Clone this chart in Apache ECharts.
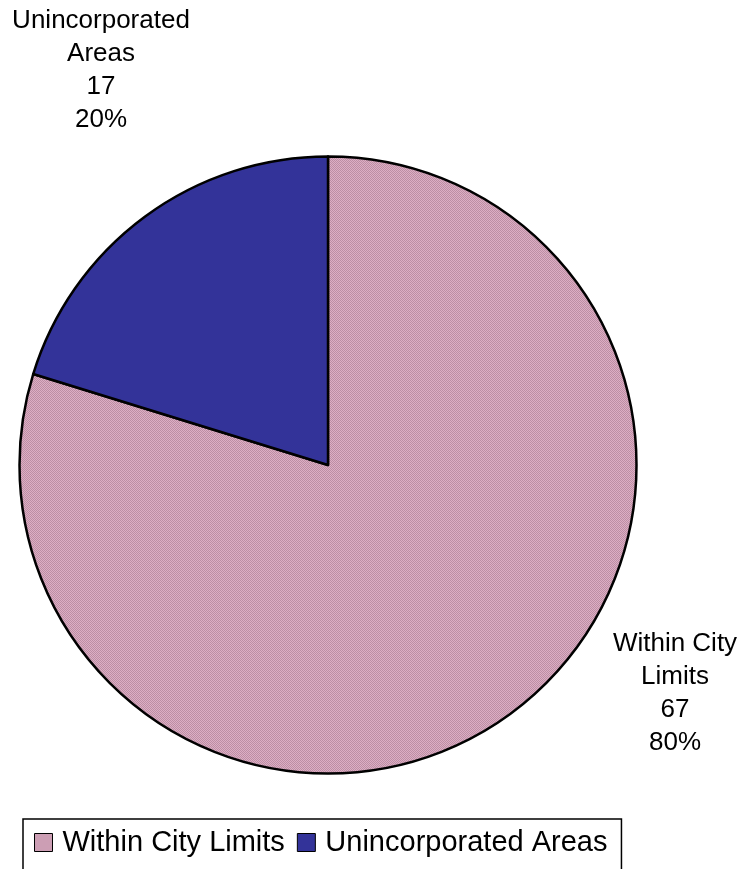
<!DOCTYPE html>
<html>
<head>
<meta charset="utf-8">
<script src="https://cdn.jsdelivr.net/npm/echarts@6/dist/echarts.min.js"></script>
<style>
html,body{margin:0;padding:0;background:#fff;}
#chart{width:745px;height:869px;}
</style>
</head>
<body>
<div id="chart"></div>
<script>
// Data
const categories = ['Within City Limits', 'Unincorporated Areas'];
const values = [67, 17];
const labelNames = ['Within City\nLimits', 'Unincorporated\nAreas'];

// Styles
const FONT = '"Liberation Sans", Arial, sans-serif';
function makePattern(c1, c2) {
  const cv = document.createElement('canvas');
  cv.width = 2; cv.height = 2;
  const ctx = cv.getContext('2d');
  ctx.fillStyle = c1; ctx.fillRect(0, 0, 2, 2);
  ctx.fillStyle = c2; ctx.fillRect(0, 0, 1, 1); ctx.fillRect(1, 1, 1, 1);
  return cv;
}
const pinkFill = { image: makePattern('#DDAEC4', '#BC8EA4'), repeat: 'repeat' };
const blueFill = '#333399';
const fills = [pinkFill, blueFill];
const labelCenters = [[675, 693], [101, 70]];

const chart = echarts.init(document.getElementById('chart'), null, { renderer: 'canvas' });
chart.setOption({
  animation: false,
  backgroundColor: '#ffffff',
  legend: {
    data: categories,
    left: 23,
    top: 819,
    orient: 'horizontal',
    padding: [9, 14, 24, 11],
    itemGap: 12,
    itemWidth: 18,
    itemHeight: 18,
    icon: 'rect',
    borderColor: '#000',
    borderWidth: 1.5,
    itemStyle: { borderColor: '#000', borderWidth: 1 },
    textStyle: { fontFamily: FONT, fontSize: 29, color: '#000', padding: [0, 0, 0, 5] }
  },
  series: [{
    type: 'pie',
    center: [328, 465],
    radius: [0, 308.5],
    startAngle: 90,
    clockwise: true,
    percentPrecision: 0,
    avoidLabelOverlap: false,
    itemStyle: { borderColor: '#000', borderWidth: 2.5 },
    label: {
      show: true,
      position: 'outside',
      fontFamily: FONT,
      fontSize: 26,
      lineHeight: 33,
      color: '#000',
      align: 'center',
      formatter: p => labelNames[p.dataIndex] + '\n' + p.value + '\n' + p.percent + '%'
    },
    labelLine: { show: false },
    labelLayout: p => ({
      x: labelCenters[p.dataIndex][0],
      y: labelCenters[p.dataIndex][1],
      align: 'center',
      verticalAlign: 'middle'
    }),
    emphasis: { disabled: true },
    data: categories.map((c, i) => ({ name: c, value: values[i], itemStyle: { color: fills[i] } }))
  }]
});
</script>
</body>
</html>
